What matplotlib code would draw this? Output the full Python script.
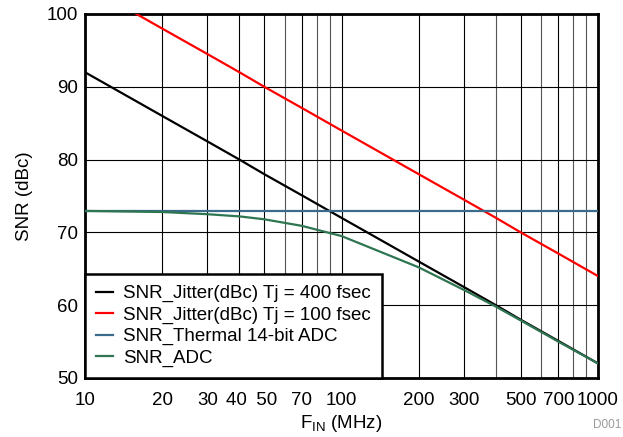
import matplotlib
matplotlib.use("Agg")
import matplotlib.pyplot as plt
from matplotlib.ticker import FixedLocator, NullFormatter

plt.rcParams['font.family'] = ['Liberation Sans', 'DejaVu Sans']
plt.rcParams['mathtext.fontset'] = 'custom'
plt.rcParams['mathtext.rm'] = 'Liberation Sans'

freq = [10, 20, 30, 40, 50, 70, 100, 200, 300, 400, 500, 700, 1000]
jitter_400 = [92.0, 86.0, 82.5, 80.0, 78.0, 75.1, 72.0, 66.0, 62.5, 60.0, 58.0, 55.1, 52.0]
jitter_100 = [104.0, 98.0, 94.5, 92.0, 90.0, 87.1, 84.0, 78.0, 74.5, 72.0, 70.0, 67.1, 64.0]
thermal = [73.0] * len(freq)
snr_adc = [72.95, 72.8, 72.5, 72.2, 71.8, 70.9, 69.5, 65.2, 62.1, 59.8, 57.9, 55.0, 52.0]

labels = ['SNR_Jitter(dBc) Tj = 400 fsec', 'SNR_Jitter(dBc) Tj = 100 fsec',
          'SNR_Thermal 14-bit ADC', 'SNR_ADC']
colors = ['#000000', '#FF0000', '#3A6B8A', '#2E7552']

xticks = [10, 20, 30, 40, 50, 70, 100, 200, 300, 500, 700, 1000]
xtick_labels = ['10', '20', '30', '40 ', ' 50', '70', '100', '200', '300', '500', '700', '1000']
yticks = [50, 60, 70, 80, 90, 100]

FS = 13.5

fig = plt.figure(figsize=(6.23, 4.37), dpi=100)
ax = fig.add_axes([85/623, 1 - 378/437, (598-85)/623, (378-14)/437])

series = [jitter_400, jitter_100, thermal, snr_adc]
for s, lab, c in zip(series, labels, colors):
    ax.plot(freq, s, color=c, lw=1.6, label=lab, zorder=3)

ax.set_xscale('log')
ax.set_xlim(10, 1000)
ax.set_ylim(50, 100)
ax.xaxis.set_major_locator(FixedLocator(xticks))
ax.xaxis.set_minor_locator(FixedLocator([60, 80, 90, 400, 600, 800, 900]))
ax.set_xticklabels(xtick_labels)
ax.xaxis.set_minor_formatter(NullFormatter())
ax.set_yticks(yticks)
ax.tick_params(axis='x', which='both', length=0, labelsize=FS, pad=10)
ax.tick_params(axis='y', which='both', length=0, labelsize=FS, pad=5)

ax.grid(True, which='major', color='#000000', lw=0.8)
ax.grid(True, which='minor', axis='x', color='#555555', lw=0.8)
for sp in ax.spines.values():
    sp.set_linewidth(2.0)

ax.set_xlabel('F$_{\\mathrm{IN}}$ (MHz)', fontsize=FS, labelpad=3)
ax.set_ylabel('SNR (dBc)', fontsize=FS, labelpad=10)

leg = ax.legend(loc='lower left', borderaxespad=0, fontsize=FS, frameon=True,
                fancybox=False, handlelength=0.9, handletextpad=0.53,
                labelspacing=0.22, borderpad=0.6)
leg.get_frame().set_edgecolor('black')
leg.get_frame().set_linewidth(1.8)
leg.get_frame().set_alpha(1)

fig.text(621/623, 1 - 425/437, 'D001', fontsize=8.5, color='#999999', va='center', ha='right')

fig.savefig('out.png', dpi=100)
